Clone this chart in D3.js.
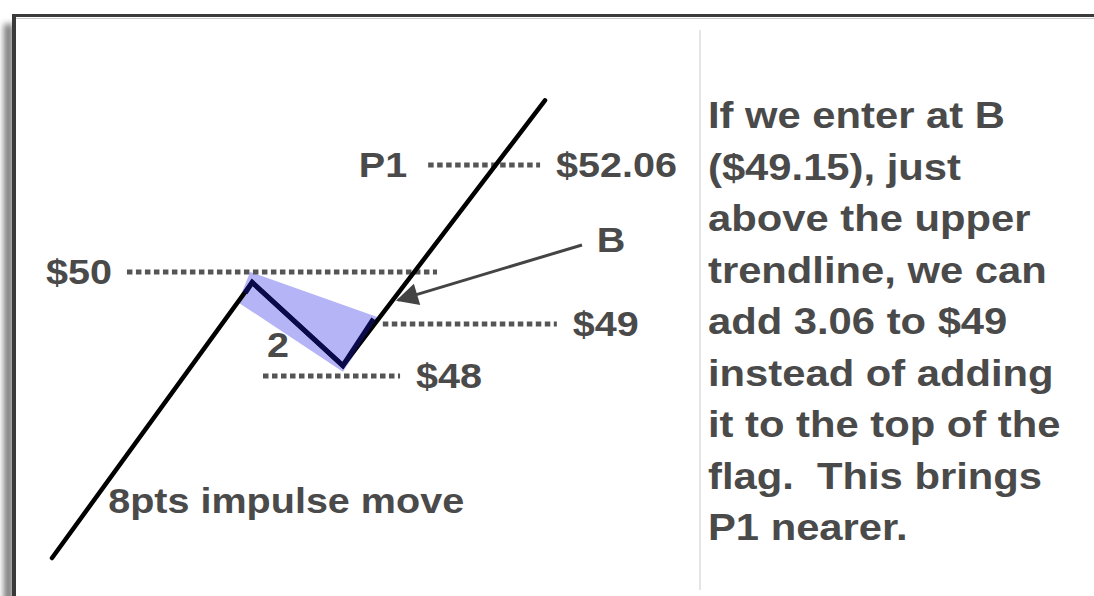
<!DOCTYPE html>
<html>
<head>
<meta charset="utf-8">
<script src="https://cdnjs.cloudflare.com/ajax/libs/d3/7.8.5/d3.min.js"></script>
<style>
  body { margin: 0; background: #fff; }
  text { font-family: "Liberation Sans", Arial, sans-serif; font-weight: bold; fill: #4a4a4a; white-space: pre; }
</style>
</head>
<body>
<div id="plot"></div>
<script>
// price path (time units, price in $)
var pathT = [0, 40.6, 59.0, 100];
var pathP = [44.5, 49.8, 48.2, 53.3];

// the flag part drawn in navy
var flagT = [39.2, 40.6, 59.0, 65.2];
var flagP = [49.6, 49.8, 48.2, 49.1];

// shaded flag channel
var channelT = [40.2, 66.4, 59.0, 37.7];
var channelP = [50.0, 49.12, 48.08, 49.42];

// dotted price levels
var levelPrice = [50, 49, 48, 52.06];
var levelFrom = [15.2, 67.1, 42.8, 76.3];
var levelTo = [78.1, 102.4, 70.6, 99.0];
var levelLabel = ['$50', '$49', '$48', '$52.06'];
var levelSide = ['left', 'right', 'right', 'right'];

// note text on the right
var noteLines = [
  'If we enter at B',
  '($49.15), just',
  'above the upper',
  'trendline, we can',
  'add 3.06 to $49',
  'instead of adding',
  'it to the top of the',
  'flag.  This brings',
  'P1 nearer.'
];

var width = 1094;
var height = 596;

var svg = d3.select('#plot').append('svg')
    .attr('width', width)
    .attr('height', height);

var defs = svg.append('defs');
defs.append('filter').attr('id', 'blur')
    .attr('x', '-200%').attr('width', '500%')
  .append('feGaussianBlur').attr('stdDeviation', 3);

defs.append('marker')
    .attr('id', 'head')
    .attr('viewBox', '0 0 10 10')
    .attr('refX', 9).attr('refY', 5)
    .attr('markerUnits', 'userSpaceOnUse')
    .attr('markerWidth', 27).attr('markerHeight', 22)
    .attr('orient', 'auto')
  .append('path')
    .attr('d', 'M0,0 L10,5 L0,10 z')
    .attr('fill', '#444');

// frame + shadow
svg.append('rect')
    .attr('x', 4).attr('y', 24).attr('width', 9).attr('height', 600)
    .attr('fill', '#777')
    .attr('filter', 'url(#blur)');
svg.append('rect')
    .attr('x', 15).attr('y', 17).attr('width', width).attr('height', height)
    .attr('fill', '#fff');
svg.append('line')
    .attr('x1', 15).attr('x2', width).attr('y1', 18.5).attr('y2', 18.5)
    .attr('stroke', '#c8c8c8').attr('stroke-width', 1);
svg.append('line')
    .attr('x1', 12).attr('x2', width).attr('y1', 15.5).attr('y2', 15.5)
    .attr('stroke', '#3a3a3a').attr('stroke-width', 3);
svg.append('line')
    .attr('x1', 14).attr('x2', 14).attr('y1', 14).attr('y2', height)
    .attr('stroke', '#3a3a3a').attr('stroke-width', 4);

// divider
svg.append('line')
    .attr('x1', 700).attr('x2', 700).attr('y1', 30).attr('y2', 590)
    .attr('stroke', '#dcdcdc').attr('stroke-width', 1.5);

// scales
var xscale = d3.scaleLinear().domain([0, 100]).range([52, 545]);
var yscale = d3.scaleLinear().domain([48, 50]).range([376, 272]);

var line = d3.line()
    .x(function(d) { return xscale(d[0]); })
    .y(function(d) { return yscale(d[1]); });

// shaded channel
svg.append('path')
    .datum(d3.zip(channelT, channelP))
    .attr('d', function(d) { return line(d) + 'Z'; })
    .attr('fill', '#b4b4f6');

// dotted levels
svg.selectAll('line.level')
    .data(levelPrice)
    .enter().append('line')
      .attr('class', 'level')
      .attr('x1', function(d, i) { return xscale(levelFrom[i]); })
      .attr('x2', function(d, i) { return xscale(levelTo[i]); })
      .attr('y1', function(d) { return yscale(d); })
      .attr('y2', function(d) { return yscale(d); })
      .attr('stroke', '#555')
      .attr('stroke-width', 5)
      .attr('stroke-dasharray', '5.5,3.5');

// main price line
svg.append('path')
    .datum(d3.zip(pathT, pathP))
    .attr('d', line)
    .attr('fill', 'none')
    .attr('stroke', '#000')
    .attr('stroke-width', 4.5)
    .attr('stroke-linecap', 'round')
    .attr('stroke-linejoin', 'miter');

// flag in navy
svg.append('path')
    .datum(d3.zip(flagT, flagP))
    .attr('d', line)
    .attr('fill', 'none')
    .attr('stroke', '#0a0a4a')
    .attr('stroke-width', 5)
    .attr('stroke-linejoin', 'miter');

// arrow to B
svg.append('line')
    .attr('x1', xscale(107.5)).attr('y1', yscale(50.52))
    .attr('x2', xscale(70.2)).attr('y2', yscale(49.46))
    .attr('stroke', '#444')
    .attr('stroke-width', 3)
    .attr('marker-end', 'url(#head)');

function label(x, y, txt, anchor, sx) {
  svg.append('text')
    .attr('transform', 'translate(' + x + ',' + y + ') scale(' + sx + ',1)')
    .attr('text-anchor', anchor)
    .style('font-size', '35px')
    .text(txt);
}

// level labels
levelPrice.forEach(function(p, i) {
  if (levelSide[i] == 'left') {
    label(xscale(levelFrom[i]) - 15, yscale(p) + 12, levelLabel[i], 'end', 1.13);
  } else {
    label(xscale(levelTo[i]) + 16, yscale(p) + 12, levelLabel[i], 'start', 1.13);
  }
});
label(xscale(levelFrom[3]) - 21, yscale(levelPrice[3]) + 12, 'P1', 'end', 1.13);
label(xscale(110.5), yscale(50.38), 'B', 'start', 1.13);
label(xscale(43.6), yscale(48.37), '2', 'start', 1.13);
label(xscale(11.4), yscale(45.37), '8pts impulse move', 'start', 1.13);

// note block
svg.selectAll('text.note')
    .data(noteLines)
    .enter().append('text')
      .attr('class', 'note')
      .attr('transform', function(d, i) { return 'translate(708,' + (128 + i * 51.5) + ') scale(1.16,1)'; })
      .style('font-size', '36px')
      .text(function(d) { return d; });
</script>
</body>
</html>
